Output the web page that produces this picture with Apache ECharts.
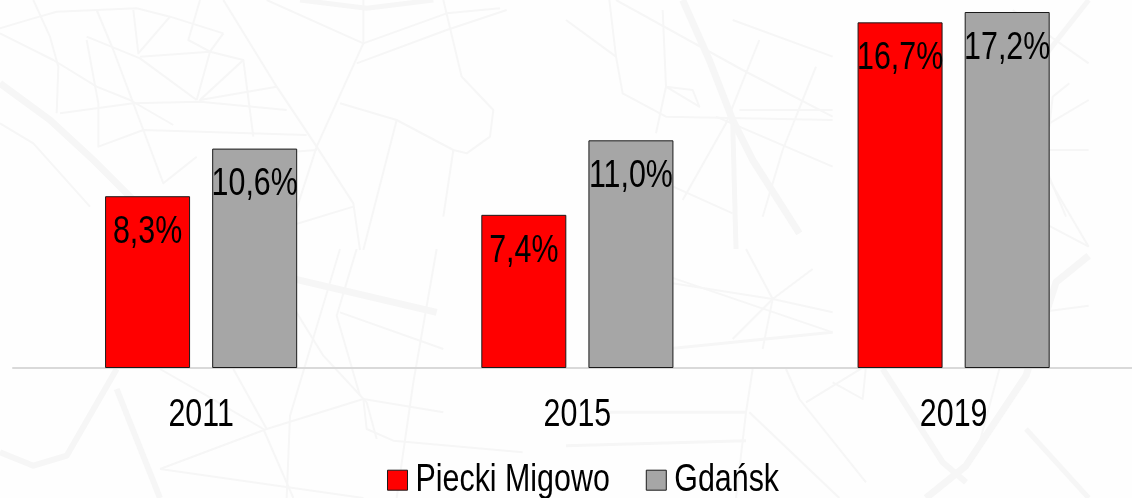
<!DOCTYPE html>
<html><head><meta charset="utf-8">
<style>html,body{margin:0;padding:0;background:#fff}#c{width:1132px;height:498px}</style>
<script src="https://cdn.jsdelivr.net/npm/echarts@6/dist/echarts.min.js"></script>
</head><body><div id="c"></div>
<script>
const categories = ['2011','2015','2019'];
const pieckiMigowo = [8.3,7.4,16.7];
const gdansk = [10.6,11.0,17.2];
const legendNames = ['Piecki Migowo','Gdańsk'];

// The reference type is a horizontally condensed Arial: squeeze canvas text to match.
const SQUEEZE = 0.8;
const P = CanvasRenderingContext2D.prototype, fill0 = P.fillText, measure0 = P.measureText;
P.fillText = function(t,x,y,m){ this.save(); this.translate(x,y); this.scale(SQUEEZE,1); fill0.call(this,t,0,0); this.restore(); };
P.measureText = function(t){ const r = measure0.call(this,t); return {width:r.width*SQUEEZE,actualBoundingBoxAscent:r.actualBoundingBoxAscent,actualBoundingBoxDescent:r.actualBoundingBoxDescent,fontBoundingBoxAscent:r.fontBoundingBoxAscent,fontBoundingBoxDescent:r.fontBoundingBoxDescent}; };

// Faint street-map backdrop: [offsetX, offsetY, width, points at 3x]
const roads = [
 [0,0,2,[0,85,100,55,170,35,290,30,410,25,510,50,670,100]],
 [0,0,2,[0,100,160,180,290,260,390,300,520,375]],
 [0,0,2,[100,0,150,110,175,200,170,340]],
 [0,0,2,[290,30,340,150,400,310,430,390,490,550,590,470]],
 [0,0,2,[260,120,295,310,295,440,430,390,920,405]],
 [0,0,2,[400,30,415,160,510,50]],
 [0,0,2,[260,110,420,175,590,300]],
 [0,0,2,[420,170,630,155,730,180,600,300,830,260]],
 [0,0,2,[180,340,400,310,600,305,860,330]],
 [0,0,2,[630,155,590,300]],
 [0,0,2,[730,180,760,410]],
 [0,0,2,[600,0,565,120,630,155,670,100]],
 [0,0,2,[670,0,830,260,950,440,1060,610,1080,750]],
 [0,0,2,[1090,130,950,440,850,750]],
 [0,0,2,[800,0,1090,130,1340,40,1500,25]],
 [0,0,2,[1090,0,1090,130]],
 [0,0,2,[1070,190,1340,90,1520,30]],
 [0,0,2,[1330,0,1385,230,1480,330,1470,410,1400,460,1360,450,1190,360,1020,310]],
 [0,0,2,[1190,360,1090,750]],
 [0,0,2,[1360,450,1330,650]],
 [0,0,2,[820,460,950,450]],
 [0,0,2,[830,690,1060,620]],
 [0,0,2,[0,370,100,430,270,620]],
 [0,0,7,[0,250,150,360,280,480,400,600]],
 [0,0,5,[900,0,1100,25,1300,0]],
 [0,249,7,[840,80,1310,190]],
 [0,249,2,[840,110,970,320,1100,460,1130,570]],
 [0,249,2,[1020,0,870,500,860,747]],
 [0,249,2,[1070,0,1010,200,1080,440]],
 [0,249,2,[1310,0,1240,400,1190,747]],
 [0,249,2,[1020,190,1330,300]],
 [0,249,2,[480,360,620,440,790,540,880,747]],
 [0,249,2,[700,360,800,540]],
 [0,249,2,[480,660,800,540,1090,450,1330,490]],
 [0,249,2,[480,660,1090,747]],
 [0,249,2,[1090,450,1100,540,1180,575,1568,610]],
 [0,249,6,[350,360,200,620,100,650,0,610]],
 [0,249,6,[350,420,480,747]],
 [566,0,7,[350,0,430,180,500,360,560,480,700,700]],
 [566,0,5,[500,360,510,747]],
 [566,0,2,[0,60,150,170,170,280,300,350,800,360]],
 [566,0,2,[130,0,150,170]],
 [566,0,2,[150,0,530,210,800,350]],
 [566,0,2,[290,30,300,260,400,320,380,270,300,260,270,400]],
 [566,0,2,[580,120,480,370,350,600]],
 [566,0,2,[500,60,800,170]],
 [566,0,2,[750,200,650,450,590,650]],
 [566,0,2,[520,330,800,330]],
 [566,0,2,[450,350,800,500]],
 [566,0,2,[300,550,500,640]],
 [566,0,2,[1340,30,1568,190]],
 [566,0,2,[1450,370,1568,300]],
 [566,0,2,[1450,380,1460,290,1510,250]],
 [566,0,2,[1340,450,1568,450]],
 [566,0,2,[1360,300,1420,460,1500,650]],
 [566,0,2,[1450,540,1568,740]],
 [566,0,2,[1340,620,1568,740]],
 [566,0,5,[1340,250,1400,220,1450,150,1568,0]],
 [566,249,7,[1568,20,1470,100,1380,380,1200,650,1080,747]],
 [566,249,6,[950,360,1130,640,1200,700]],
 [566,249,5,[1380,540,1568,747]],
 [566,249,2,[1300,360,1230,620]],
 [566,249,2,[560,360,540,490,510,747]],
 [566,249,2,[550,490,820,747]],
 [566,249,2,[660,360,700,450,900,700]],
 [566,249,2,[720,460,900,350,890,450,800,400]],
 [566,249,3,[130,490,540,490]],
 [566,249,3,[0,590,540,575]],
 [566,249,2,[300,80,800,250]],
 [566,249,3,[300,300,800,250]],
 [566,249,2,[500,270,620,150,740,60]],
 [566,249,2,[540,0,620,150,590,300]],
 [566,249,2,[300,100,620,150,800,190]],
 [566,249,2,[1340,200,1568,170]],
 [566,249,2,[1350,100,1420,190,1440,300]]
];
const backdrop = roads.map(([ox,oy,w,p])=>{
  const points=[]; for(let i=0;i<p.length;i+=2) points.push([ox+p[i]/3,oy+p[i+1]/3]);
  return {type:'polyline',silent:true,z:0,shape:{points},style:{fill:null,stroke:'#f6f6f6',lineWidth:w,lineJoin:'round'}};
});

const FONT = '"Liberation Sans",Arial,sans-serif';
const chart = echarts.init(document.getElementById('c'),null,{renderer:'canvas'});
const label = {show:true,position:'insideTop',distance:21,color:'#000',fontFamily:FONT,fontSize:38,
  formatter:p=>p.value.toFixed(1).replace('.',',')+'%'};
chart.setOption({
  animation:false,
  backgroundColor:'#fefefe',
  graphic:{elements:backdrop},
  grid:{left:13,top:12,width:1128.75,height:356,outerBoundsMode:'none'},
  legend:{left:382,top:460,itemWidth:20,itemHeight:20,itemGap:36,icon:'rect',
    itemStyle:{borderColor:'#1a1a1a',borderWidth:1},
    textStyle:{fontFamily:FONT,fontSize:38,color:'#000',padding:[0,0,0,3]},
    data:legendNames},
  xAxis:{type:'category',data:categories,axisTick:{show:false},
    axisLine:{lineStyle:{color:'#d9d9d9',width:2}},
    axisLabel:{color:'#000',fontFamily:FONT,fontSize:38,margin:32}},
  yAxis:{type:'value',min:0,max:17.2,show:false},
  series:[
   {name:legendNames[0],type:'bar',data:pieckiMigowo,barWidth:85,barGap:'26%',
    itemStyle:{color:'#ff0000',borderColor:'#1a1a1a',borderWidth:1},label},
   {name:legendNames[1],type:'bar',data:gdansk,barWidth:85,
    itemStyle:{color:'#a6a6a6',borderColor:'#1a1a1a',borderWidth:1},label}
  ]
});
</script></body></html>
